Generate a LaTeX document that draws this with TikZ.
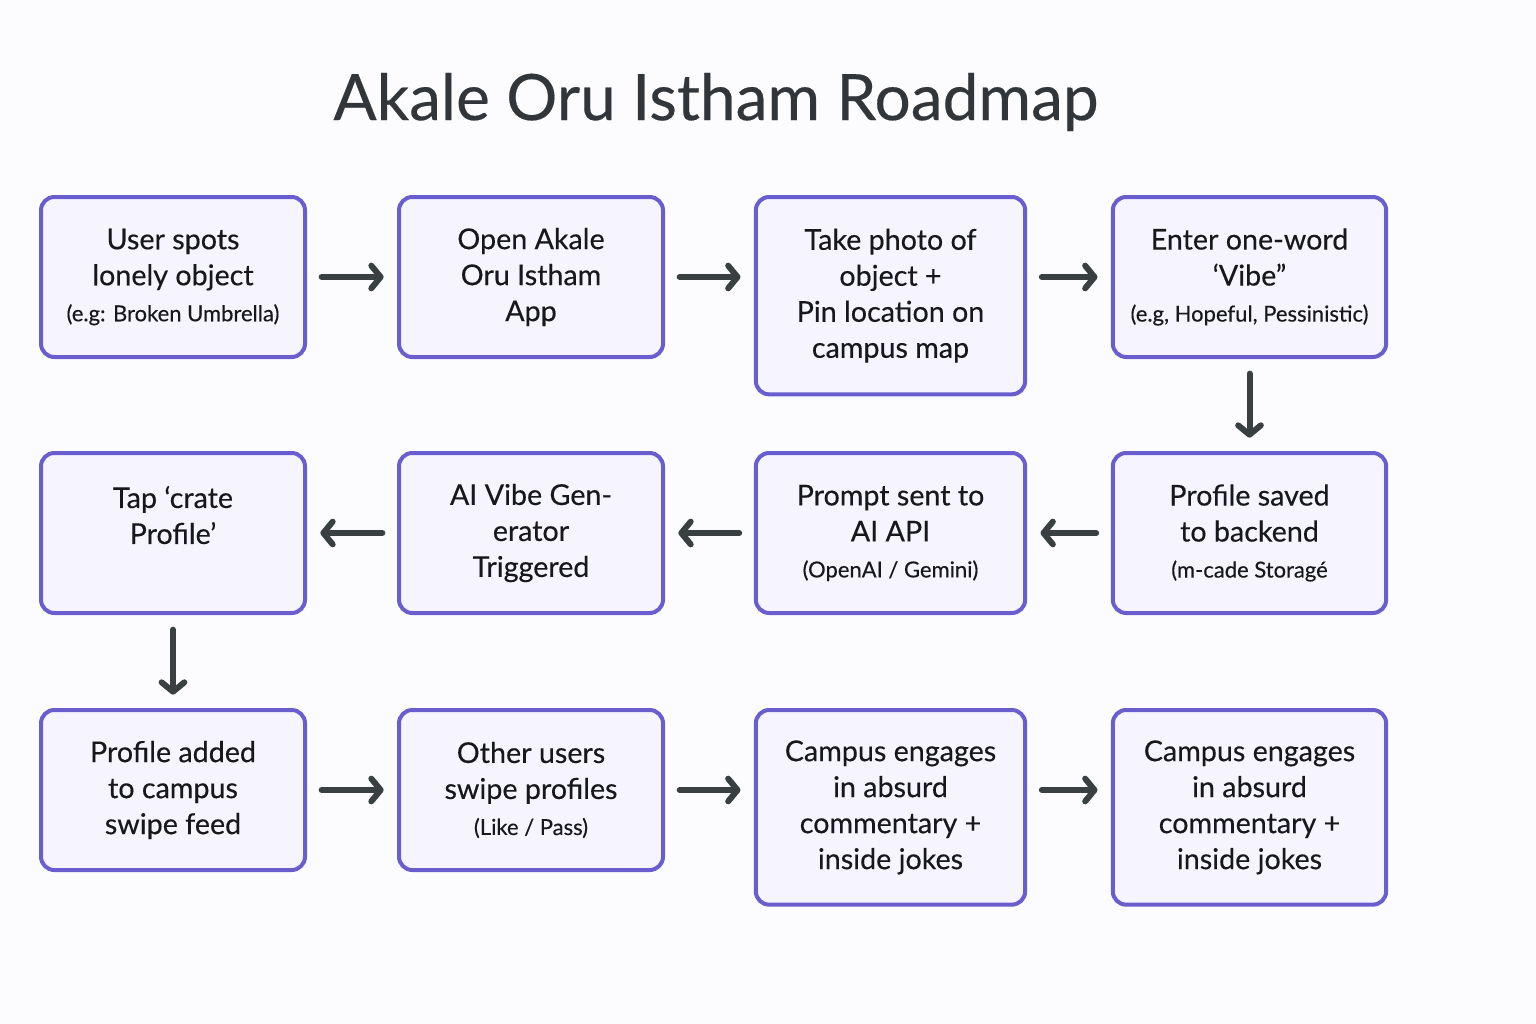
\documentclass[tikz,border=0pt]{standalone}
\usepackage{fontspec}
\setmainfont{Lato}[FakeBold=0.3]
\usetikzlibrary{arrows.meta}

\definecolor{paper}{RGB}{252,252,254}
\definecolor{boxline}{RGB}{106,94,207}
\definecolor{boxfill}{RGB}{246,244,255}
\definecolor{arrowgray}{RGB}{58,63,66}
\definecolor{inkgray}{RGB}{22,24,28}
\definecolor{titlegray}{RGB}{50,54,58}

\tikzset{every picture/.style={line width=0.75pt}}
\tikzset{
  stepbox/.style={draw=boxline, fill=boxfill, line width=3pt, rounded corners=10pt, anchor=north, align=center, text=inkgray, font=\fontsize{21.5}{27}\selectfont, minimum width=198pt, minimum height=120pt, inner sep=2pt},
  flow/.style={draw=arrowgray, line width=4.5pt, line cap=round, -{Straight Barb[round,length=7pt,width=17pt]}, shorten <=11pt, shorten >=10pt}
}
\newcommand{\smallnote}[1]{{\fontsize{16.5}{27}\selectfont #1}}

\begin{document}
\begin{tikzpicture}[x=0.75pt,y=0.75pt,yscale=-1,xscale=1]
\useasboundingbox (0,0) rectangle (1536,1024);
\fill[paper] (0,0) rectangle (1536,1024);

% Title
\node[text=titlegray, font=\fontsize{48}{56}\selectfont] (title) at (716,102) {Akale Oru Istham Roadmap};

%Row 1
\node[stepbox] (spot) at (173,195) {User spots\\lonely object\\\smallnote{(e.g: Broken Umbrella)}};
\node[stepbox] (open) at (531,195) {Open Akale\\Oru Istham\\App};
\node[stepbox, minimum width=202pt, minimum height=148pt] (photo) at (890.5,195) {Take photo of\\object +\\Pin location on\\campus map};
\node[stepbox, minimum width=205pt] (vibe) at (1249.5,195) {Enter one-word\\‘Vibe”\\\smallnote{(e.g, Hopeful, Pessinistic)}};

%Row 2
\node[stepbox] (tap) at (173,451) {Tap ‘crate\\Profile’\\\mbox{}};
\node[stepbox] (gen) at (531,451) {AI Vibe Gen-\\erator\\Triggered};
\node[stepbox, minimum width=202pt] (prompt) at (890.5,451) {Prompt sent to\\AI API\\\smallnote{(OpenAI / Gemini)}};
\node[stepbox, minimum width=205pt] (saved) at (1249.5,451) {Profile saved\\to backend\\\smallnote{(m-cade Storagé}};

%Row 3
\node[stepbox] (feed) at (173,708) {Profile added\\to campus\\swipe feed};
\node[stepbox] (swipe) at (531,708) {Other users\\swipe profiles\\\smallnote{(Like / Pass)}};
\node[stepbox, minimum width=202pt, minimum height=146pt] (joke) at (890.5,708) {Campus engages\\in absurd\\commentary +\\inside jokes};
\node[stepbox, minimum width=205pt, minimum height=146pt] (jokes) at (1249.5,708) {Campus engages\\in absurd\\commentary +\\inside jokes};

%Arrows
\draw[flow] (spot) -- (open);
\draw[flow] (open.east) -- (open.east -| photo.west);
\draw[flow] (vibe.west -| photo.east) -- (vibe.west);
\draw[flow] (vibe) -- (saved);
\draw[flow] (saved) -- (prompt);
\draw[flow] (prompt) -- (gen);
\draw[flow] (gen) -- (tap);
\draw[flow] (tap) -- (feed);
\draw[flow] (feed) -- (swipe);
\draw[flow] (swipe.east) -- (swipe.east -| joke.west);
\draw[flow] (swipe.east -| joke.east) -- (swipe.east -| jokes.west);

\end{tikzpicture}
\end{document}
